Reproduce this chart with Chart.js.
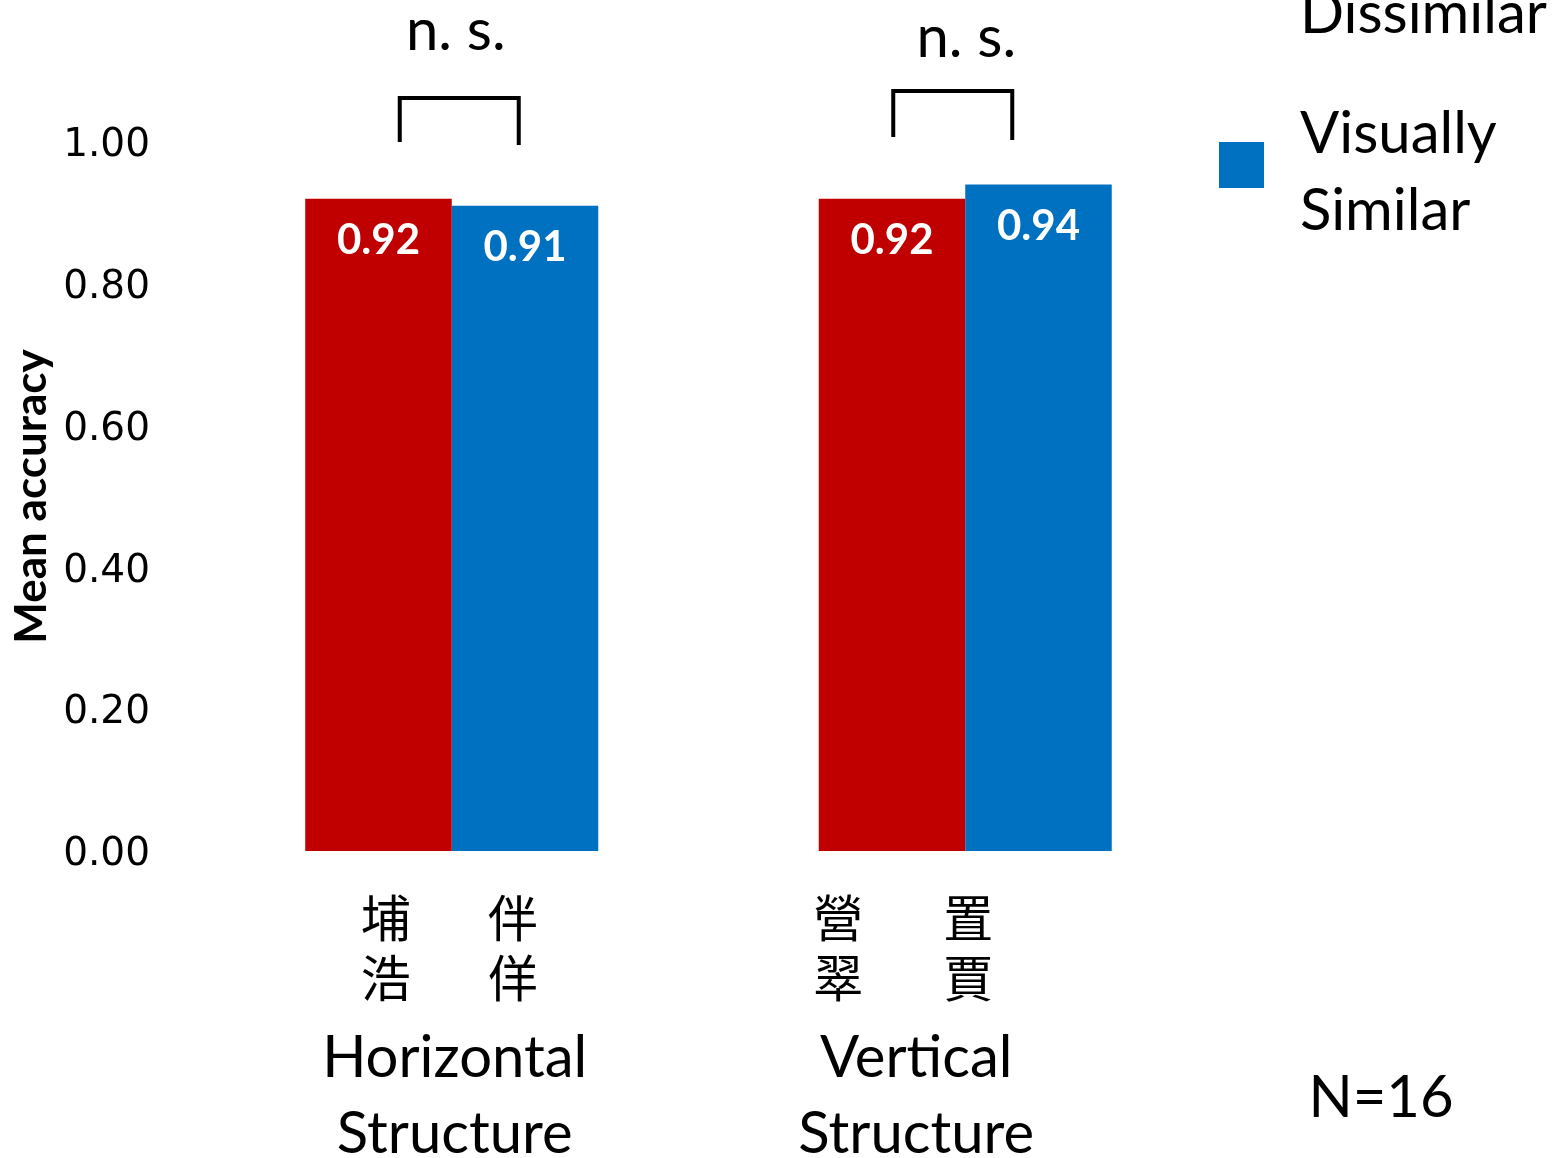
<!DOCTYPE html>
<html>
<head>
<meta charset="utf-8">
<script src="https://cdn.jsdelivr.net/npm/chart.js@4.4.0/dist/chart.umd.min.js"></script>
<style>
  html, body { margin: 0; padding: 0; background: #ffffff; overflow: hidden; }
  #wrap { width: 1556px; height: 1158px; position: relative; }
  canvas { display: block; }
</style>
</head>
<body>
<div id="wrap"><canvas id="chart" width="1556" height="1158"></canvas></div>
<script>
// ---- data ----
const categories = ['Horizontal Structure', 'Vertical Structure'];
const categoryLines = [['Horizontal', 'Structure'], ['Vertical', 'Structure']];
// example character pairs shown under each condition: [dissimilar column, similar column]
const exampleChars = [
  [['埔', '浩'], ['伴', '佯']],
  [['營', '翠'], ['置', '賈']]
];
const seriesNames = [['Visually', 'Dissimilar'], ['Visually', 'Similar']];
const dissimilarAcc = [0.92, 0.92];
const similarAcc = [0.91, 0.94];
const significance = ['n. s.', 'n. s.'];
const yTickStep = 0.2;
const yMin = 0;
const yMax = 1.0;
const sampleNote = 'N=16';

// ---- styling / layout ----
const RED = '#C00000';
const BLUE = '#0070C0';
const LATIN = 'Lato, "Open Sans", sans-serif';
const CJK = '"Noto Sans CJK TC", "Noto Sans CJK SC", sans-serif';

// per-category horizontal offsets (px from category centre)
const charColumnOffset = [[-66, 61], [-127, 3]];
const labelOffset = [3, -49];
const sigOffset = [4, 1];
// bracket geometry relative to category centre / plot top
const bracketX = [[-52, 67], [-72, 47]];
const bracketTopRel = [-44, -51];
const bracketFootRel = [[0, 3], [-5, -2]];
const sigBaselineRel = [-92, -85];

const annotations = {
  id: 'annotations',
  afterDraw(chart) {
    const ctx = chart.ctx;
    const xs = chart.scales.x;
    const area = chart.chartArea;
    ctx.save();

    // values inside the bars
    ctx.fillStyle = '#ffffff';
    ctx.font = 'bold 42px ' + LATIN;
    ctx.textAlign = 'center';
    ctx.textBaseline = 'middle';
    chart.data.datasets.forEach((ds, di) => {
      chart.getDatasetMeta(di).data.forEach((bar, i) => {
        ctx.fillText(ds.data[i].toFixed(2), bar.x, bar.y + 42);
      });
    });

    // significance brackets and labels
    ctx.strokeStyle = '#000000';
    ctx.lineWidth = 4;
    ctx.lineCap = 'butt';
    ctx.lineJoin = 'miter';
    ctx.fillStyle = '#000000';
    ctx.font = '58px ' + LATIN;
    ctx.textBaseline = 'alphabetic';
    categories.forEach((c, i) => {
      const cx = xs.getPixelForValue(i);
      const l = cx + bracketX[i][0];
      const r = cx + bracketX[i][1];
      const t = area.top + bracketTopRel[i];
      ctx.beginPath();
      ctx.moveTo(l, area.top + bracketFootRel[i][0]);
      ctx.lineTo(l, t);
      ctx.lineTo(r, t);
      ctx.lineTo(r, area.top + bracketFootRel[i][1]);
      ctx.stroke();
      ctx.fillText(significance[i], cx + sigOffset[i], area.top + sigBaselineRel[i]);
    });

    // example characters and condition names under the bars
    categories.forEach((c, i) => {
      const cx = xs.getPixelForValue(i);
      ctx.font = '50px ' + CJK;
      ctx.textBaseline = 'middle';
      exampleChars[i].forEach((col, k) => {
        col.forEach((ch, j) => {
          ctx.fillText(ch, cx + charColumnOffset[i][k], area.bottom + 67 + j * 60);
        });
      });
      ctx.font = '58px ' + LATIN;
      ctx.textBaseline = 'alphabetic';
      categoryLines[i].forEach((line, j) => {
        ctx.fillText(line, cx + labelOffset[i], area.bottom + 226 + j * 76);
      });
    });

    // legend
    ctx.textAlign = 'left';
    ctx.font = '58px ' + LATIN;
    chart.data.datasets.forEach((ds, di) => {
      const shift = (di - 1) * 197;
      ctx.fillStyle = ds.backgroundColor;
      ctx.fillRect(1219, 142 + shift, 45, 46);
      ctx.fillStyle = '#000000';
      seriesNames[di].forEach((line, j) => {
        ctx.fillText(line, 1300, 153 + shift + j * 77);
      });
    });

    // sample size
    ctx.textAlign = 'center';
    ctx.fillText(sampleNote, 1381, 1117);
    ctx.restore();
  }
};

function build() {
  new Chart(document.getElementById('chart'), {
    type: 'bar',
    data: {
      labels: categories,
      datasets: [
        { label: seriesNames[0].join(' '), data: dissimilarAcc, backgroundColor: RED, borderWidth: 0 },
        { label: seriesNames[1].join(' '), data: similarAcc, backgroundColor: BLUE, borderWidth: 0 }
      ]
    },
    options: {
      responsive: false,
      animation: false,
      devicePixelRatio: 1,
      categoryPercentage: 0.5706,
      barPercentage: 1.0,
      layout: { padding: { left: 0, top: 142, right: 334, bottom: 307 } },
      plugins: { legend: { display: false }, tooltip: { enabled: false } },
      scales: {
        x: { display: false },
        y: {
          min: yMin,
          max: yMax,
          grid: { display: false, drawTicks: false },
          border: { display: false },
          afterFit(scale) { scale.width = 195; },
          ticks: {
            stepSize: yTickStep,
            padding: 45,
            labelOffset: 4,
            color: '#000000',
            font: { family: '"DejaVu Sans", sans-serif', size: 39 },
            callback: v => Number(v).toFixed(2)
          },
          title: {
            display: true,
            text: 'Mean accuracy',
            color: '#000000',
            font: { family: LATIN, size: 44, weight: 'bold' },
            padding: { top: 5, bottom: 0 }
          }
        }
      }
    },
    plugins: [annotations]
  });
}

const fontLoads = [
  document.fonts.load('58px Lato'),
  document.fonts.load('bold 44px Lato'),
  document.fonts.load('50px "Noto Sans CJK TC"', '埔浩伴佯營翠置賈'),
  document.fonts.load('39px "DejaVu Sans"')
];
Promise.all(fontLoads).then(build, build);
</script>
</body>
</html>
